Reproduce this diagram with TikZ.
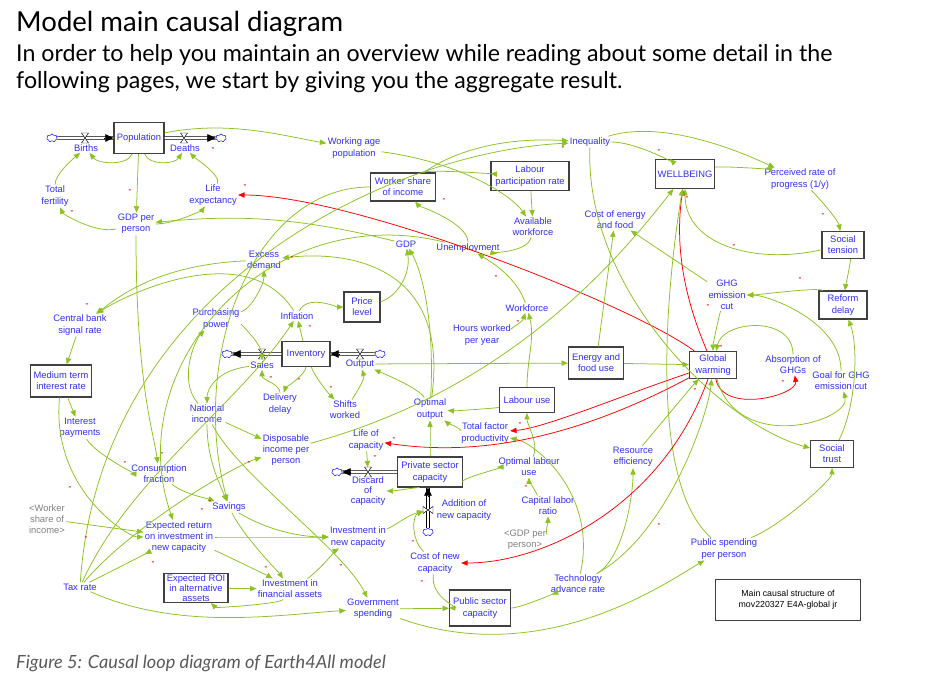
\documentclass[tikz,border=0pt]{standalone}
\usepackage{fontspec}
\setmainfont{Liberation Sans}
\newfontfamily\headfont{Lato}
\usepackage{tikz}
\usetikzlibrary{arrows.meta,shapes.symbols,calc}

\definecolor{vblue}{RGB}{48,48,240}
\definecolor{lgreen}{RGB}{140,195,35}
\definecolor{pgrey}{RGB}{128,128,128}
\definecolor{capgrey}{RGB}{90,90,90}

\begin{document}
\begin{tikzpicture}[x=0.03cm,y=-0.03cm,
  var/.style={text=vblue, align=center, inner sep=1pt, font=\fontsize{8}{9.6}\selectfont},
  shadowvar/.style={var, text=pgrey},
  stock/.style={var, draw=black!75, line width=0.9pt, fill=white},
  pol/.style={text=red, inner sep=0pt, font=\fontsize{7}{7}\selectfont\bfseries},
  cl/.style={draw=lgreen, line width=0.65pt, -{Triangle[length=5.5pt,width=4.5pt]}},
  clr/.style={cl, draw=red},
  cloudy/.style={cloud, cloud puffs=7, aspect=1.3, draw=blue, fill=white, minimum width=9pt, minimum height=7pt, inner sep=0pt, line width=0.4pt},
  pipe/.style={draw=black, double=white, double distance=1.5pt, line width=0.55pt},
  pipetip/.style={draw=black, line width=0.6pt, -{Triangle[length=7pt,width=6.5pt]}},
  valve/.style={draw=black, fill=white, line width=0.4pt}]
  \fill[white] (0,0) rectangle (933,682);
  \useasboundingbox (0,0) rectangle (933,682);

  % header and caption
  \node[anchor=west, inner sep=0pt, font=\headfont\fontsize{23.5}{27}\selectfont] (title) at (16,24) {Model main causal diagram};
  \node[anchor=north west, inner sep=0pt, align=left, font=\headfont\fontsize{19.8}{23}\selectfont] (intro) at (16,44) {In order to help you maintain an overview while reading about some detail in the\\following pages, we start by giving you the aggregate result.};
  \node[anchor=west, inner sep=0pt, text=capgrey, font=\headfont\itshape\fontsize{15.5}{18}\selectfont] (caption) at (16,663) {Figure 5: Causal loop diagram of Earth4All model};

  % stocks
  \node[stock, minimum width=1.5cm, minimum height=0.93cm] (pop) at (139,138) {Population};
  \node[stock, minimum width=1.95cm, minimum height=0.84cm] (wsi) at (403,187) {Worker share\\of income};
  \node[stock, minimum width=2.34cm, minimum height=0.87cm] (lpr) at (530,176) {Labour\\participation rate};
  \node[stock, minimum width=1.77cm, minimum height=0.87cm] (wb) at (685,174) {WELLBEING};
  \node[stock, minimum width=1.26cm, minimum height=0.81cm] (st) at (843,245) {Social\\tension};
  \node[stock, minimum width=1.44cm, minimum height=0.84cm] (rd) at (843,305) {Reform\\delay};
  \node[stock, minimum width=1.08cm, minimum height=0.9cm] (price) at (362,307) {Price\\level};
  \node[stock, minimum width=1.83cm, minimum height=0.96cm] (mtir) at (61,381) {Medium term\\interest rate};
  \node[stock, minimum width=1.44cm, minimum height=0.75cm] (inv) at (306,354) {Inventory};
  \node[stock, minimum width=1.65cm, minimum height=0.96cm] (efu) at (596,363) {Energy and\\food use};
  \node[stock, minimum width=1.41cm, minimum height=0.81cm] (gw) at (713,365) {Global\\warming};
  \node[stock, minimum width=1.65cm, minimum height=0.75cm] (lu) at (527,400) {Labour use};
  \node[stock, minimum width=1.95cm, minimum height=0.9cm] (psc) at (430,472) {Private sector\\capacity};
  \node[stock, minimum width=1.29cm, minimum height=0.81cm] (stru) at (832,454) {Social\\trust};
  \node[stock, minimum width=1.92cm, minimum height=0.87cm, inner sep=0.5pt, font=\fontsize{8}{8.4}\selectfont] (eroi) at (196,588) {Expected ROI\\in alternative\\assets};
  \node[stock, minimum width=1.83cm, minimum height=1.08cm] (pubsc) at (480,608) {Public sector\\capacity};
  \node[stock, text=black, line width=0.7pt, minimum width=4.35cm, minimum height=1.23cm, font=\fontsize{7.5}{9.5}\selectfont] (note) at (788,600) {Main causal structure of\\mov220327 E4A-global jr};

  % auxiliaries
  \node[var] (births) at (86,148) {Births};
  \node[var] (deaths) at (185,148) {Deaths};
  \node[var] (tfert) at (55,196) {Total\\fertility};
  \node[var] (lifeexp) at (213,195) {Life\\expectancy};
  \node[var] (gdppp) at (136,224) {GDP per\\person};
  \node[var] (wap) at (354,148) {Working age\\population};
  \node[var] (ineq) at (590,142) {Inequality};
  \node[var] (avwf) at (533,227) {Available\\workforce};
  \node[var] (gdp) at (406,244) {GDP};
  \node[var] (unemp) at (468,248) {Unemployment};
  \node[var] (perc) at (800,179) {Perceived rate of\\progress (1/y)};
  \node[var] (coef) at (615,220) {Cost of energy\\and food};
  \node[var] (ghg) at (727,295) {GHG\\emission\\cut};
  \node[var] (exd) at (264,260) {Excess\\demand};
  \node[var] (cbsr) at (80,325) {Central bank\\signal rate};
  \node[var] (pp) at (216,319) {Purchasing\\power};
  \node[var] (infl) at (297,316) {Inflation};
  \node[var] (sales) at (262,365) {Sales};
  \node[var] (output) at (360,364) {Output};
  \node[var] (ddelay) at (280,404) {Delivery\\delay};
  \node[var] (shifts) at (345,410) {Shifts\\worked};
  \node[var] (natinc) at (207,414) {National\\income};
  \node[var] (dipp) at (286,450) {Disposable\\income per\\person};
  \node[var] (optout) at (430,409) {Optimal\\output};
  \node[var] (wf) at (527,308) {Workforce};
  \node[var] (hwpy) at (482,335) {Hours worked\\per year};
  \node[var] (tfp) at (485,433) {Total factor\\productivity};
  \node[var] (loc) at (366,440) {Life of\\capacity};
  \node[var] (ip) at (80,428) {Interest\\payments};
  \node[var] (cf) at (159,474) {Consumption\\fraction};
  \node[var] (sav) at (229,507) {Savings};
  \node[shadowvar] (wsish) at (47,519) {<Worker\\share of\\income>};
  \node[var] (eret) at (179,537) {Expected return\\on investment in\\new capacity};
  \node[var] (tax) at (80,587) {Tax rate};
  \node[var] (ifa) at (290,589) {Investment in\\financial assets};
  \node[var, font=\fontsize{8}{8.2}\selectfont] (disc) at (368,491) {Discard\\of\\capacity};
  \node[var] (add) at (464,510) {Addition of\\new capacity};
  \node[var] (inc) at (358,537) {Investment in\\new capacity};
  \node[var] (olu) at (529,467) {Optimal labour\\use};
  \node[var] (clr) at (548,506) {Capital labor\\ratio};
  \node[shadowvar] (gdpsh) at (525,540) {<GDP per\\person>};
  \node[var] (cnc) at (435,563) {Cost of new\\capacity};
  \node[var] (govsp) at (373,609) {Government\\spending};
  \node[var] (tar) at (578,584) {Technology\\advance rate};
  \node[var] (res) at (633,457) {Resource\\efficiency};
  \node[var] (absg) at (793,365) {Absorption of\\GHGs};
  \node[var] (goal) at (841,381) {Goal for GHG\\emission cut};
  \node[var] (psp) at (724,549) {Public spending\\per person};

  % flows
  \node[cloudy] (cb) at (52,138) {};
  \node[cloudy] (cd) at (221,138) {};
  \node[cloudy] (cs) at (227,354) {};
  \node[cloudy] (co) at (380,354) {};
  \node[cloudy] (cdc) at (337,472) {};
  \node[cloudy] (cac) at (428,532) {};
  \coordinate (vb) at (85,138);
  \coordinate (vd) at (184,138);
  \coordinate (vs) at (262,354);
  \coordinate (vo) at (360,354);
  \coordinate (vdc) at (368,472);
  \coordinate (vac) at (428,510);
  \draw[pipe] (cb) -- (pop);
  \draw[pipetip] ($(pop.west)+(-9,0)$) -- (pop.west);
  \draw[pipe] (pop) -- (cd);
  \draw[pipetip] ($(cd.west)+(-9,0)$) -- (cd.west);
  \draw[pipe] (inv) -- (cs);
  \draw[pipetip] ($(cs.east)+(9,0)$) -- (cs.east);
  \draw[pipe] (co) -- (inv);
  \draw[pipetip] ($(inv.east)+(9,0)$) -- (inv.east);
  \draw[pipe] (psc.west |- cdc) -- (cdc);
  \draw[pipetip] ($(cdc.east)+(9,0)$) -- (cdc.east);
  \draw[pipe] (cac) -- (cac |- psc.south);
  \draw[pipetip] ($(cac |- psc.south)+(0,9)$) -- (cac |- psc.south);
  \foreach \v in {vb,vd,vs,vo,vdc}
    \draw[valve] ($(\v)+(-3.5,-5)$) -- ++(7,0) -- ++(-7,10) -- ++(7,0) -- cycle;
  \draw[valve] ($(vac)+(-5,-3.5)$) -- ++(0,7) -- ++(10,-7) -- ++(0,7) -- cycle;

  % population
  \draw[cl] (pop) .. controls +(-12,28) and +(12,16) .. (births);
  \draw[cl] (pop) .. controls +(10,28) and +(-10,16) .. (deaths);
  \draw[cl] (pop) -- (gdppp);
  \draw[cl] (tfert) .. controls +(0,-22) and +(-12,10) .. (births);
  \draw[cl] (gdppp) .. controls +(-40,10) and +(8,18) .. (tfert);
  \draw[cl] (lifeexp) .. controls +(8,-20) and +(10,10) .. (deaths);
  \draw[cl] (gdppp) .. controls +(40,0) and +(-10,14) .. (lifeexp);
  \draw[cl] (pop) .. controls +(90,-18) and +(-70,-12) .. (wap);
  \draw[cl] (gdp) .. controls +(-120,-30) and +(90,-8) .. (gdppp);
  \draw[clr] (gw) .. controls +(-80,-60) and +(140,0) .. (lifeexp);

  % labour
  \draw[cl] (wap) .. controls +(110,15) and +(-20,-30) .. (avwf);
  \draw[cl] (lpr) -- (avwf);
  \draw[cl] (wsi) .. controls +(25,-18) and +(-35,-2) .. (lpr);
  \draw[cl] (wsi) .. controls +(50,-35) and +(-90,-5) .. (ineq);
  \draw[cl] (unemp) .. controls +(0,-25) and +(15,18) .. (wsi);
  \draw[cl] (avwf) .. controls +(-5,25) and +(25,5) .. (unemp);
  \draw[cl] (wf) .. controls +(-10,-30) and +(25,15) .. (unemp);
  \draw[cl] (lu) .. controls +(0,-40) and +(8,30) .. (wf);
  \draw[cl] (hwpy) .. controls +(25,-5) and +(-5,15) .. (wf);
  \draw[cl] (unemp) .. controls +(-200,-50) and +(-60,-170) .. (eret);
  \draw[cl] (wsi) .. controls +(-150,0) and +(-40,-150) .. (sav);
  \draw[cl] (tax) .. controls +(20,-300) and +(-200,10) .. (ineq);

  % wellbeing and climate
  \draw[cl] (ineq) .. controls +(45,0) and +(-12,-12) .. (wb);
  \draw[cl] (ineq) .. controls +(80,-25) and +(-40,-18) .. (perc);
  \draw[cl] (wb) .. controls +(35,-8) and +(-30,-10) .. (perc);
  \draw[cl] (perc) .. controls +(20,20) and +(-5,-25) .. (st);
  \draw[cl] (st) .. controls +(-90,20) and +(0,70) .. (wb);
  \draw[cl] (st) .. controls +(8,15) and +(2,-15) .. (rd);
  \draw[cl] (rd) .. controls +(-25,-18) and +(30,0) .. (ghg);
  \draw[cl] (goal) .. controls +(0,-60) and +(40,0) .. (ghg);
  \draw[cl] (ghg) -- (coef);
  \draw[cl] (ghg) .. controls +(-8,20) and +(0,-20) .. (gw);
  \draw[cl] (efu) -- (coef);
  \draw[cl] (efu) -- (gw);
  \draw[cl] (output) -- (efu);
  \draw[cl] (absg) .. controls +(0,-50) and +(10,-45) .. (gw);
  \draw[clr] (gw) .. controls +(10,50) and +(5,30) .. (absg);
  \draw[cl] (gw) .. controls +(25,90) and +(10,40) .. (goal);
  \draw[clr] (gw) .. controls +(-30,-70) and +(-10,70) .. (wb);
  \draw[cl] (ineq) .. controls +(-5,150) and +(-110,-30) .. (stru);
  \draw[cl] (psp) .. controls +(60,-25) and +(0,25) .. (stru);
  \draw[cl] (stru) .. controls +(25,-50) and +(15,40) .. (rd);
  \draw[cl] (psp) .. controls +(-80,-70) and +(-15,90) .. (wb);
  \draw[cl] (dipp) .. controls +(220,-60) and +(-70,90) .. (wb);
  \draw[cl] (tar) .. controls +(45,-25) and +(0,40) .. (res);
  \draw[cl] (tar) .. controls +(90,-50) and +(-5,50) .. (gw);
  \draw[cl] (res) .. controls +(25,-30) and +(-20,20) .. (gw);
  \draw[cl] (tar) .. controls +(20,-90) and +(50,10) .. (tfp);
  \draw[cl] (pubsc) .. controls +(40,0) and +(-25,10) .. (tar);
  \draw[cl] (govsp) -- (pubsc);
  \draw[cl] (cnc) .. controls +(-5,35) and +(-20,0) .. (pubsc);
  \draw[cl] (govsp) .. controls +(170,60) and +(-60,35) .. (psp);
  \draw[clr] (gw) .. controls +(-50,140) and +(110,0) .. (cnc);
  \draw[clr] (gw) .. controls +(-90,30) and +(60,-5) .. (tfp);
  \draw[clr] (gw) .. controls +(-150,80) and +(100,15) .. (loc);

  % prices, output and capacity
  \draw[cl] (inv) -- (infl);
  \draw[cl] (infl) .. controls +(10,-22) and +(-25,0) .. (price);
  \draw[cl] (price) .. controls +(35,-10) and +(5,30) .. (gdp);
  \draw[cl] (optout) .. controls +(5,-90) and +(15,25) .. (gdp);
  \draw[cl] (optout) .. controls +(20,-140) and +(90,-10) .. (exd);
  \draw[cl] (pp) .. controls +(35,-10) and +(0,25) .. (exd);
  \draw[cl] (exd) .. controls +(-110,5) and +(35,-25) .. (cbsr);
  \draw[cl] (infl) .. controls +(-50,-80) and +(45,-30) .. (cbsr);
  \draw[cl] (cbsr) -- (mtir);
  \draw[cl] (mtir) -- (ip);
  \draw[cl] (ip) .. controls +(15,25) and +(-25,0) .. (cf);
  \draw[cl] (gdppp) .. controls +(0,160) and +(-5,-40) .. (cf);
  \draw[cl] (mtir) .. controls +(-10,110) and +(-50,0) .. (eret);
  \draw[cl] (wsish) -- (eret);
  \draw[cl] (tax) .. controls +(30,-15) and +(-20,10) .. (eret);
  \draw[cl] (tax) .. controls +(50,-60) and +(-50,15) .. (dipp);
  \draw[cl] (tax) .. controls +(100,45) and +(-90,5) .. (govsp);
  \draw[cl] (tax) .. controls +(50,-110) and +(-60,90) .. (infl);
  \draw[cl] (natinc) .. controls +(-30,-35) and +(-20,20) .. (pp);
  \draw[cl] (pp) .. controls +(25,5) and +(0,-20) .. (sales);
  \draw[cl] (ddelay) .. controls +(0,-20) and +(0,15) .. (sales);
  \draw[cl] (sales) .. controls +(-45,5) and +(0,-25) .. (natinc);
  \draw[cl] (inv) .. controls +(0,20) and +(5,-15) .. (ddelay);
  \draw[cl] (inv) .. controls +(10,25) and +(-15,-15) .. (shifts);
  \draw[cl] (shifts) .. controls +(10,-15) and +(5,15) .. (output);
  \draw[cl] (optout) .. controls +(-10,-20) and +(25,10) .. (output);
  \draw[cl] (lu) .. controls +(-30,8) and +(25,2) .. (optout);
  \draw[cl] (tfp) .. controls +(-20,-2) and +(15,12) .. (optout);
  \draw[cl] (psc) .. controls +(0,-20) and +(0,20) .. (optout);
  \draw[cl] (olu) .. controls +(10,-25) and +(0,25) .. (lu);
  \draw[cl] (psc) .. controls +(25,8) and +(-25,0) .. (olu);
  \draw[cl] (clr) .. controls +(-10,-10) and +(0,12) .. (olu);
  \draw[cl] (gdpsh) .. controls +(20,-5) and +(0,15) .. (clr);
  \draw[cl] (psc) .. controls +(-10,15) and +(25,0) .. (disc);
  \draw[cl, shorten >=4pt] (loc) -- (vdc);
  \draw[cl, shorten >=4pt] (inc) .. controls +(35,-10) and +(-20,5) .. (vac);
  \draw[cl, shorten >=4pt] (cnc) .. controls +(-25,-25) and +(-15,5) .. (vac);

  % income, savings and investment
  \draw[cl] (natinc) -- (dipp);
  \draw[cl] (natinc) .. controls +(0,45) and +(-10,-25) .. (sav);
  \draw[cl] (cf) .. controls +(25,20) and +(-20,-8) .. (sav);
  \draw[cl] (natinc) .. controls +(30,60) and +(-30,-60) .. (govsp);
  \draw[cl] (eret) .. controls +(60,0) and +(-60,0) .. (inc);
  \draw[cl] (sav) .. controls +(50,30) and +(-40,0) .. (inc);
  \draw[cl] (ifa) .. controls +(25,-15) and +(-20,12) .. (inc);
  \draw[cl] (eret) .. controls +(40,15) and +(-20,-12) .. (ifa);
  \draw[cl] (sav) .. controls +(15,30) and +(-10,-15) .. (ifa);
  \draw[cl] (eroi) -- (ifa);
  \draw[cl] (ifa) .. controls +(-10,15) and +(20,20) .. (eroi);

  % polarity marks
  \foreach \px/\py [count=\k] in {213/149, 130/191, 72/212, 245/186, 292/258, 563/148, 444/200, 496/277,
      659/151, 687/198, 823/215, 734/246, 800/279, 708/306, 87/305, 310/327, 271/378, 299/380, 331/388,
      518/322, 520/424, 394/439, 375/457, 721/347, 695/390, 783/382, 162/454, 210/502, 202/510, 125/463,
      70/488, 86/538, 153/563, 266/568, 249/463, 526/487, 413/542, 422/582, 341/566, 659/525}
    \node[pol] (m\k) at (\px,\py) {-};
\end{tikzpicture}
\end{document}
